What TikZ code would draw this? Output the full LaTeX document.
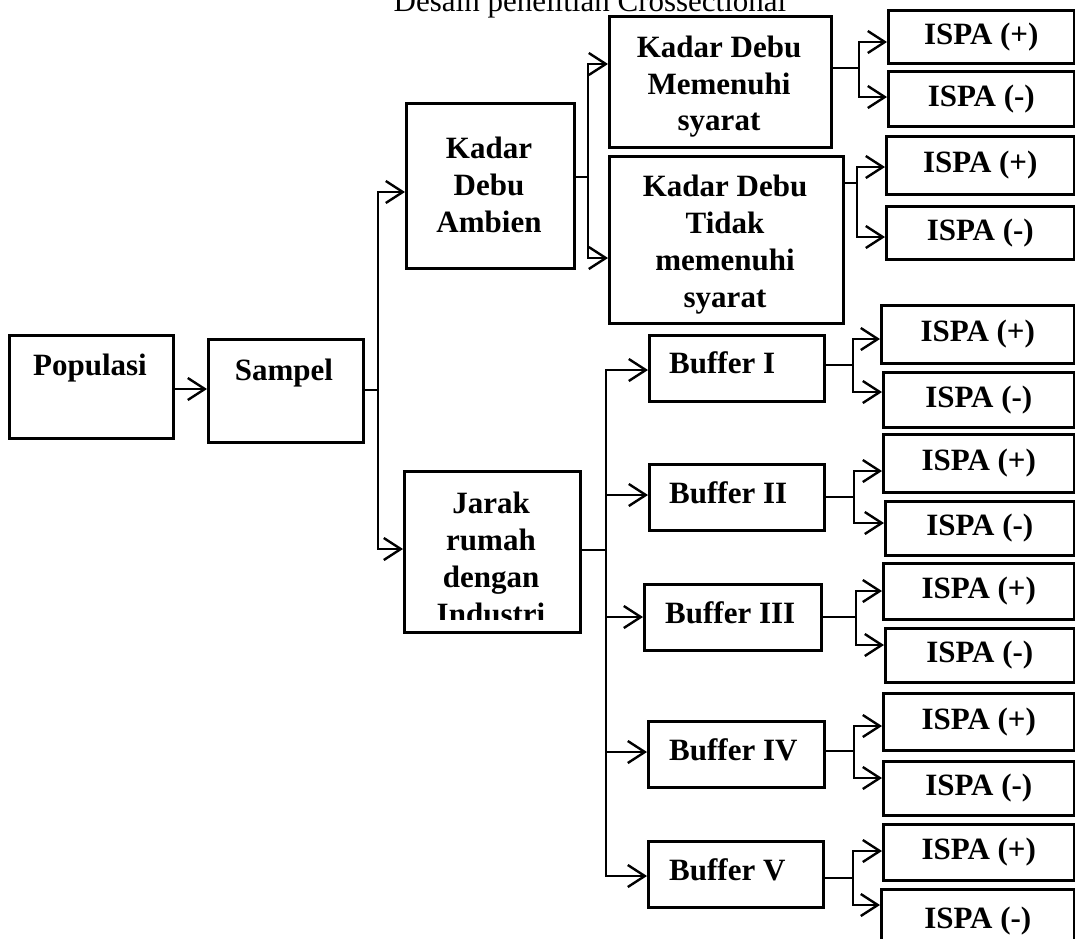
\documentclass[tikz,border=0pt]{standalone}
\usepackage{fontspec}
\setmainfont{Liberation Serif}
\usetikzlibrary{arrows.meta}
\begin{document}
\begin{tikzpicture}[x=1pt,y=-1pt,
  box/.style={draw,line width=2.6pt,inner sep=0pt,anchor=north west},
  lbl/.style={font=\fontsize{31}{37}\selectfont\bfseries,align=center,inner sep=0pt},
  ispa/.style={box,font=\fontsize{31}{37}\selectfont\bfseries,minimum width=#1},
  ttl/.style={font=\fontsize{31}{37}\selectfont,inner sep=0pt},
  conn/.style={line width=2pt,line cap=rect},
  arr/.style={line width=2pt,-{Straight Barb[length=17pt,width=22pt,line width=2.4pt]}},
]
\useasboundingbox (0,0) rectangle (1075,938);
\clip (0,0) rectangle (1075,938);
\fill[white] (0,0) rectangle (1075,938);

% title
\node[ttl,anchor=base] (title) at (590,11) {Desain penelitian Crossectional};

% main boxes
\node[box,minimum width=164pt,minimum height=103pt] (pop) at (8,334) {};
\node[lbl] (popT) at (90,368) {Populasi};
\node[box,minimum width=155pt,minimum height=103pt] (sam) at (207,338) {};
\node[lbl] (samT) at (284,373) {Sampel};
\node[box,minimum width=168pt,minimum height=165pt] (amb) at (405,102) {};
\node[lbl] (ambT) at (489,185) {Kadar\\Debu\\Ambien};
\node[box,minimum width=176pt,minimum height=161pt] (jar) at (403,470) {};
\begin{scope}
\clip (403,470) rectangle (579,619);
\node[lbl] (jarT) at (491,558) {Jarak\\rumah\\dengan\\Industri};
\end{scope}
\node[box,minimum width=222pt,minimum height=131pt] (mem) at (608,15) {};
\node[lbl,font=\fontsize{31}{36.5}\selectfont\bfseries] (memT) at (719,87) {Kadar Debu\\Memenuhi\\syarat};
\node[box,minimum width=234pt,minimum height=167pt] (tid) at (608,155) {};
\node[lbl] (tidT) at (725,245) {Kadar Debu\\Tidak\\memenuhi\\syarat};

% buffers
\node[box,minimum width=175pt,minimum height=66pt] (bf1) at (648,334) {};
\node[lbl,anchor=west] (bf1T) at (669,363) {Buffer I};
\node[box,minimum width=175pt,minimum height=66pt] (bf2) at (648,463) {};
\node[lbl,anchor=west] (bf2T) at (669,493) {Buffer II};
\node[box,minimum width=177pt,minimum height=66pt] (bf3) at (643,583) {};
\node[lbl,anchor=west] (bf3T) at (665,613) {Buffer III};
\node[box,minimum width=176pt,minimum height=66pt] (bf4) at (647,720) {};
\node[lbl,anchor=west] (bf4T) at (669,750) {Buffer IV};
\node[box,minimum width=175pt,minimum height=66pt] (bf5) at (647,840) {};
\node[lbl,anchor=west] (bf5T) at (669,870) {Buffer V};

% ISPA boxes
\node[ispa=186pt,minimum height=53pt] (t1p) at (887,9) {ISPA (+)};
\node[ispa=186pt,minimum height=55pt] (t1m) at (887,70) {ISPA (-)};
\node[ispa=188pt,minimum height=58pt] (t2p) at (885,135) {ISPA (+)};
\node[ispa=188pt,minimum height=53pt] (t2m) at (885,205) {ISPA (-)};
\node[ispa=193pt,minimum height=58pt] (b1p) at (880,304) {ISPA (+)};
\node[ispa=191pt,minimum height=55pt] (b1m) at (882,371) {ISPA (-)};
\node[ispa=191pt,minimum height=58pt] (b2p) at (882,433) {ISPA (+)};
\node[ispa=189pt,minimum height=54pt] (b2m) at (884,500) {ISPA (-)};
\node[ispa=191pt,minimum height=56pt] (b3p) at (882,562) {ISPA (+)};
\node[ispa=189pt,minimum height=54pt] (b3m) at (884,627) {ISPA (-)};
\node[ispa=191pt,minimum height=57pt] (b4p) at (882,692) {ISPA (+)};
\node[ispa=191pt,minimum height=54pt] (b4m) at (882,760) {ISPA (-)};
\node[ispa=191pt,minimum height=56pt] (b5p) at (882,823) {ISPA (+)};
\node[ispa=193pt,minimum height=64pt] (b5m) at (880,888) {ISPA (-)};

% junction coordinates
\coordinate (sM) at (378,390);
\coordinate (sT) at (378,192);
\coordinate (sB) at (378,549);
\coordinate (aM) at (588,177);
\coordinate (aT) at (588,64);
\coordinate (aB) at (588,258);
\coordinate (mM) at (859,68);
\coordinate (mT) at (859,42);
\coordinate (mB) at (859,97);
\coordinate (dM) at (857,183);
\coordinate (dT) at (857,167);
\coordinate (dB) at (857,237);
\coordinate (jM) at (606,550);
\coordinate (j1) at (606,370);
\coordinate (j2) at (606,495);
\coordinate (j3) at (606,617);
\coordinate (j4) at (606,752);
\coordinate (j5) at (606,876);
\coordinate (k1M) at (853,365);
\coordinate (k1T) at (853,339);
\coordinate (k1B) at (853,392);
\coordinate (k2M) at (854,497);
\coordinate (k2T) at (854,471);
\coordinate (k2B) at (854,523);
\coordinate (k3M) at (856,617);
\coordinate (k3T) at (856,591);
\coordinate (k3B) at (856,645);
\coordinate (k4M) at (854,751);
\coordinate (k4T) at (854,726);
\coordinate (k4B) at (854,778);
\coordinate (k5M) at (853,878);
\coordinate (k5T) at (853,851);
\coordinate (k5B) at (853,905);

% connectors
\coordinate (pA) at (172,389);
\draw[arr] (pop.east |- pA) -- (sam.west |- pA);

\draw[conn] (sam.east |- sM) -- (sM);
\draw[conn] (sT) -- (sB);
\draw[arr] (sT) -- (amb.west |- sT);
\draw[arr] (sB) -- (jar.west |- sB);

\draw[conn] (amb.east |- aM) -- (aM);
\draw[conn] (aT) -- (aB);
\draw[arr] (aT) -- (mem.west |- aT);
\draw[arr] (aB) -- (tid.west |- aB);

\draw[conn] (mem.east |- mM) -- (mM);
\draw[conn] (mT) -- (mB);
\draw[arr] (mT) -- (t1p.west |- mT);
\draw[arr] (mB) -- (t1m.west |- mB);

\draw[conn] (tid.east |- dM) -- (dM);
\draw[conn] (dT) -- (dB);
\draw[arr] (dT) -- (t2p.west |- dT);
\draw[arr] (dB) -- (t2m.west |- dB);

\draw[conn] (jar.east |- jM) -- (jM);
\draw[conn] (j1) -- (j5);
\draw[arr] (j1) -- (bf1.west |- j1);
\draw[arr] (j2) -- (bf2.west |- j2);
\draw[arr] (j3) -- (bf3.west |- j3);
\draw[arr] (j4) -- (bf4.west |- j4);
\draw[arr] (j5) -- (bf5.west |- j5);

\draw[conn] (bf1.east |- k1M) -- (k1M);
\draw[conn] (k1T) -- (k1B);
\draw[arr] (k1T) -- (b1p.west |- k1T);
\draw[arr] (k1B) -- (b1m.west |- k1B);

\draw[conn] (bf2.east |- k2M) -- (k2M);
\draw[conn] (k2T) -- (k2B);
\draw[arr] (k2T) -- (b2p.west |- k2T);
\draw[arr] (k2B) -- (b2m.west |- k2B);

\draw[conn] (bf3.east |- k3M) -- (k3M);
\draw[conn] (k3T) -- (k3B);
\draw[arr] (k3T) -- (b3p.west |- k3T);
\draw[arr] (k3B) -- (b3m.west |- k3B);

\draw[conn] (bf4.east |- k4M) -- (k4M);
\draw[conn] (k4T) -- (k4B);
\draw[arr] (k4T) -- (b4p.west |- k4T);
\draw[arr] (k4B) -- (b4m.west |- k4B);

\draw[conn] (bf5.east |- k5M) -- (k5M);
\draw[conn] (k5T) -- (k5B);
\draw[arr] (k5T) -- (b5p.west |- k5T);
\draw[arr] (k5B) -- (b5m.west |- k5B);
\end{tikzpicture}
\end{document}
